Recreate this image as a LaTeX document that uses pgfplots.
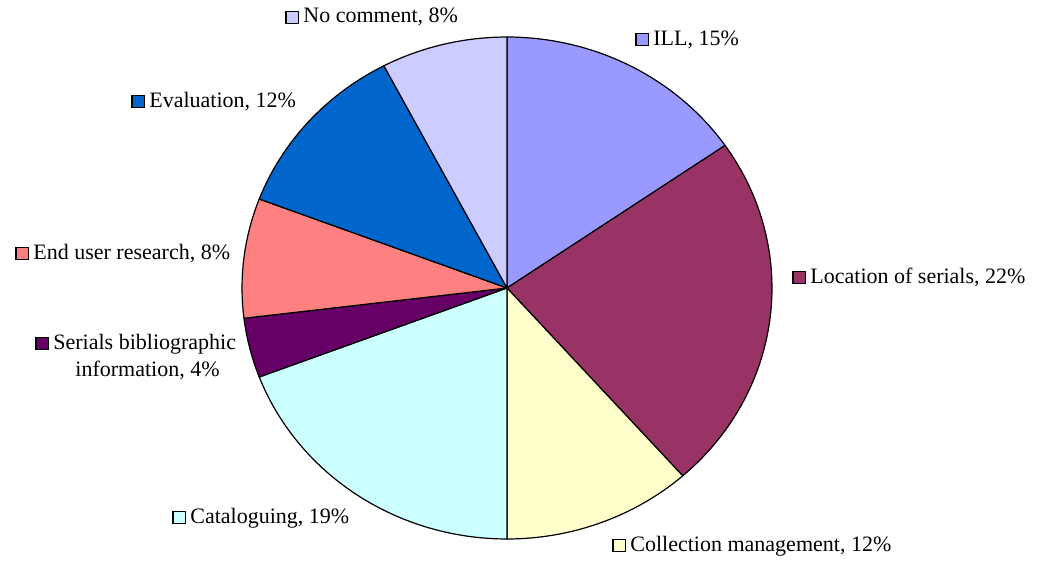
\documentclass[border=0pt]{standalone}
\usepackage{fontspec}
\setmainfont{Liberation Serif}
\usepackage{pgfplots}
\pgfplotsset{compat=1.18}
\definecolor{cill}{HTML}{9999FF}
\definecolor{cloc}{HTML}{993366}
\definecolor{ccoll}{HTML}{FFFFCC}
\definecolor{ccat}{HTML}{CCFFFF}
\definecolor{cser}{HTML}{660066}
\definecolor{cend}{HTML}{FF8080}
\definecolor{ceval}{HTML}{0066CC}
\definecolor{cnoc}{HTML}{CCCCFF}
\newcommand{\key}[1]{{\fboxsep=0pt\fboxrule=0.6pt\fcolorbox{black}{#1}{\rule{0pt}{5.6pt}\rule{5.6pt}{0pt}}}\hspace{2.2pt}}
% slice counts (total 26): ILL 4, Location 6, Collection 3, Cataloguing 5,
% Serials 1, End user 2, Evaluation 3, No comment 2
\begin{document}
\begin{tikzpicture}
\begin{axis}[scale only axis, width=519pt, height=281pt,
  xmin=0, xmax=1038, ymin=0, ymax=562, y dir=reverse,
  hide axis, clip=false,
  every axis plot/.append style={draw=black, line width=0.6pt, line join=round, variable=\t, no markers},
  nodes={font=\fontsize{11}{13}\selectfont, inner sep=0pt, anchor=base west}]
\path (rel axis cs:0,0) rectangle (rel axis cs:1,1);
\addplot[fill=cill, domain=360*0/26:360*4/26, samples=40]
  ({507+265*sin(t)},{288-251*cos(t)}) -- (axis cs:507,288) -- cycle;
\addplot[fill=cloc, domain=360*4/26:360*10/26, samples=50]
  ({507+265*sin(t)},{288-251*cos(t)}) -- (axis cs:507,288) -- cycle;
\addplot[fill=ccoll, domain=360*10/26:360*13/26, samples=30]
  ({507+265*sin(t)},{288-251*cos(t)}) -- (axis cs:507,288) -- cycle;
\addplot[fill=ccat, domain=360*13/26:360*18/26, samples=40]
  ({507+265*sin(t)},{288-251*cos(t)}) -- (axis cs:507,288) -- cycle;
\addplot[fill=cser, domain=360*18/26:360*19/26, samples=15]
  ({507+265*sin(t)},{288-251*cos(t)}) -- (axis cs:507,288) -- cycle;
\addplot[fill=cend, domain=360*19/26:360*21/26, samples=20]
  ({507+265*sin(t)},{288-251*cos(t)}) -- (axis cs:507,288) -- cycle;
\addplot[fill=ceval, domain=360*21/26:360*24/26, samples=30]
  ({507+265*sin(t)},{288-251*cos(t)}) -- (axis cs:507,288) -- cycle;
\addplot[fill=cnoc, domain=360*24/26:360*26/26, samples=20]
  ({507+265*sin(t)},{288-251*cos(t)}) -- (axis cs:507,288) -- cycle;
\node at (axis cs:635,45) {\key{cill}ILL, 15\%};
\node at (axis cs:285,23) {\key{cnoc}No comment, 8\%};
\node at (axis cs:131,107) {\key{ceval}Evaluation, 12\%};
\node at (axis cs:15,259) {\key{cend}End user research, 8\%};
\node at (axis cs:35,349) {\key{cser}Serials bibliographic};
\node at (axis cs:75,376) {information, 4\%};
\node at (axis cs:172,523) {\key{ccat}Cataloguing, 19\%};
\node at (axis cs:612,551) {\key{ccoll}Collection management, 12\%};
\node at (axis cs:792,283) {\key{cloc}Location of serials, 22\%};
\end{axis}
\end{tikzpicture}
\end{document}
